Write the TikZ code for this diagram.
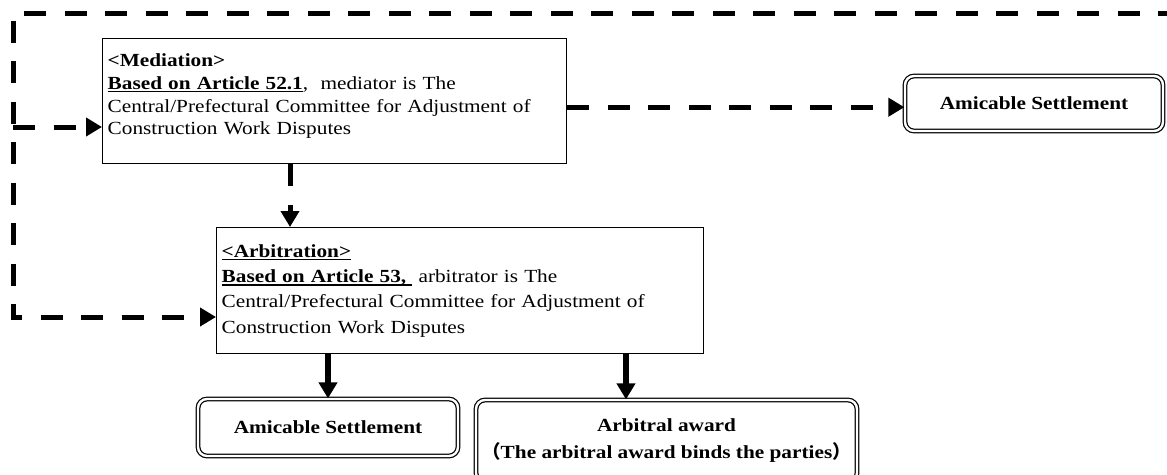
\documentclass[tikz,border=0pt]{standalone}
\usepackage{fontspec}
\setmainfont{Liberation Serif}[FakeStretch=1.15]
\newfontfamily\cjkparen{Noto Sans CJK JP}
\usetikzlibrary{arrows.meta,calc}
\newcommand\myul[1]{\leavevmode\setbox0\hbox{#1}\rlap{\rule[-3pt]{\wd0}{1.7pt}}\box0}
\begin{document}
\begin{tikzpicture}[x=1pt,y=-1pt,
  procbox/.style={draw, line width=1.4pt, rectangle, inner sep=5pt, anchor=north west, align=left},
  endbox/.style={draw, double, line width=1.2pt, double distance=2.4pt, rounded corners=9pt, anchor=north west, align=center, inner sep=0pt, font=\fontsize{18.5}{27}\selectfont\bfseries},
  dashedarrow/.style={line width=5pt, dash pattern=on 22pt off 18.5pt, -{Triangle[length=16pt,width=18pt]}},
  solidarrow/.style={line width=6pt, -{Triangle[length=16pt,width=18pt]}}]
\useasboundingbox (0,0) rectangle (1167,474);

\node[procbox, minimum width=464pt, minimum height=125pt, text width=454pt, font=\fontsize{18.5}{22.7}\selectfont] (med) at (102,38)
 {{\bfseries <Mediation>}\\
  \myul{\bfseries Based on Article 52.1}, \ mediator is The\\
  Central/Prefectural Committee for Adjustment of\\
  Construction Work Disputes\par\nointerlineskip\vspace{10pt}\hbox{}};

\node[procbox, minimum width=487pt, minimum height=126pt, text width=477pt, font=\fontsize{18.5}{25.3}\selectfont] (arb) at (216,227)
 {\myul{\bfseries <Arbitration>}\\
  \myul{\bfseries Based on Article 53,\ }\ arbitrator is The\\
  Central/Prefectural Committee for Adjustment of\\
  Construction Work Disputes};

\node[endbox, minimum width=258pt, minimum height=55pt] (amic1) at (904.4,75.4) {Amicable Settlement};
\node[endbox, minimum width=260pt, minimum height=57pt] (amic2) at (197.4,398.4) {Amicable Settlement};
\node[endbox, minimum width=381pt, minimum height=82pt] (award) at (475.4,399.4)
 {Arbitral award\\{\cjkparen （}The arbitral award binds the parties{\cjkparen ）}};

\coordinate (tr) at (1180,13);
\coordinate (tl) at (13,13);
\coordinate (bl) at (13,317);
\coordinate (ml) at (13,127);
\draw[dashedarrow] (tr) -- (tl) -- (bl) -- (bl -| arb.west);
\draw[dashedarrow] (ml) -- (ml -| med.west);

\coordinate (r1) at ($(med.east)+(0,6)$);
\draw[dashedarrow] (r1) -- (r1 -| amic1.west);

\coordinate (ma) at ($(med.south west)+(188,0)$);
\draw[dashedarrow] (ma) -- (ma |- arb.north);

\draw[solidarrow] (amic2.north |- arb.south) -- (amic2.north);
\coordinate (a2) at ($(arb.south west)+(410,0)$);
\draw[solidarrow] (a2) -- (a2 |- award.north);
\end{tikzpicture}
\end{document}
